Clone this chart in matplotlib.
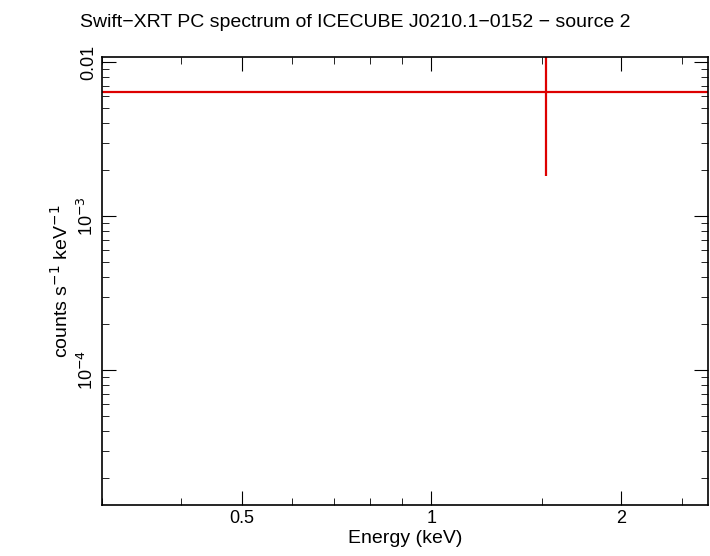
import matplotlib
matplotlib.use("Agg")
import matplotlib.pyplot as plt
from matplotlib.ticker import FixedLocator, NullFormatter

matplotlib.rc("font", family="Liberation Sans")

# single binned point (energy, rate) with errors
energy = [1.523]
energy_lo = [0.3]
energy_hi = [2.75]
rate = [0.00638]
rate_err = [0.00456]

fig = plt.figure(figsize=(7.10, 5.56), dpi=100)
ax = fig.add_axes([102 / 710, 1 - 505 / 556, 606 / 710, 448 / 556])

ax.errorbar(energy, rate,
            xerr=[[energy[0] - energy_lo[0]], [energy_hi[0] - energy[0]]],
            yerr=[rate_err], fmt="none", ecolor="#dd0000", elinewidth=1.6, capsize=0)

ax.set_xscale("log")
ax.set_yscale("log")
ax.set_xlim(0.3, 2.75)
ax.set_ylim(1.33e-5, 0.0108)

ax.xaxis.set_major_locator(FixedLocator([0.5, 1, 2]))
ax.xaxis.set_minor_locator(FixedLocator([0.3, 0.4, 0.6, 0.7, 0.8, 0.9, 1.5, 2.5]))
ax.xaxis.set_minor_formatter(NullFormatter())
ax.set_xticklabels(["0.5", "1", "2"])

ax.yaxis.set_major_locator(FixedLocator([1e-4, 1e-3, 1e-2]))
ax.set_yticklabels([r"10$^{-4}$", r"10$^{-3}$", "0.01"], rotation=90, va="center")
ax.tick_params(which="both", direction="in", top=True, right=True, labelsize=13)
ax.tick_params(which="major", length=10)
ax.tick_params(which="minor", length=5)
for s in ax.spines.values():
    s.set_linewidth(1.2)

ax.set_xlabel("Energy (keV)", fontsize=14, labelpad=2)
ax.set_ylabel(r"counts s$^{-1}$ keV$^{-1}$", fontsize=14)
fig.suptitle("Swift\u2212XRT PC spectrum of ICECUBE J0210.1\u22120152 \u2212 source 2",
             fontsize=14, y=0.975)

fig.savefig("out.png", dpi=100)
